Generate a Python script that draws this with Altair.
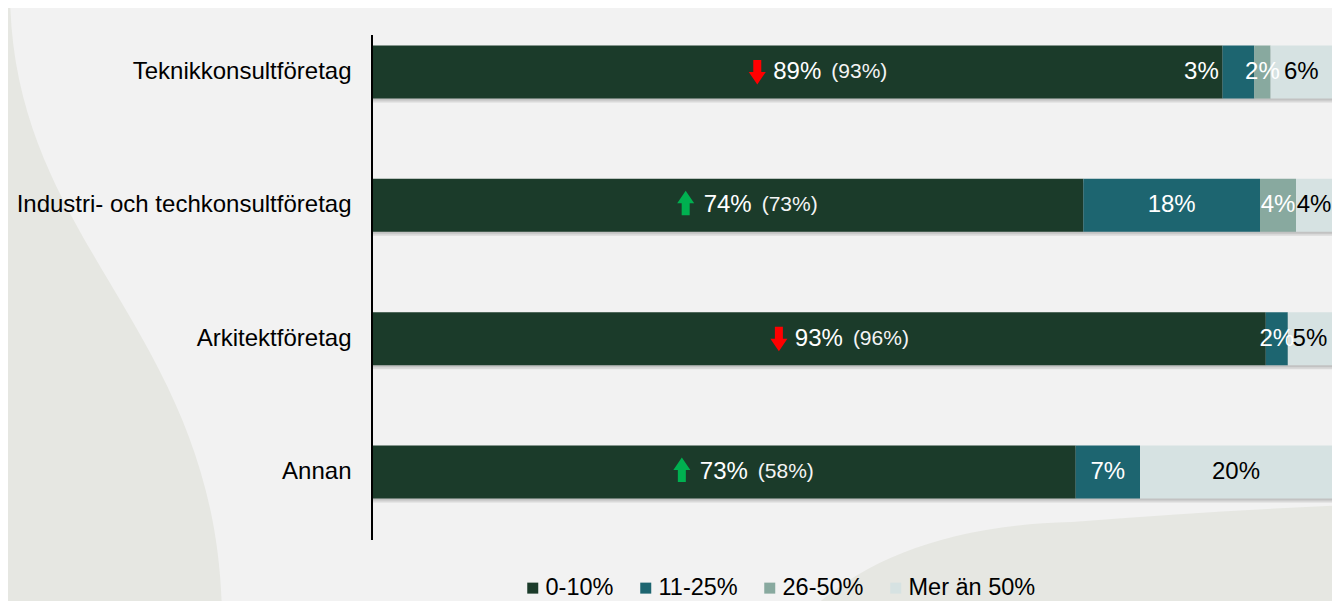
import altair as alt
import pandas as pd

categories = ["Teknikkonsultföretag", "Industri- och techkonsultföretag", "Arkitektföretag", "Annan"]
segments = ["0-10%", "11-25%", "26-50%", "Mer än 50%"]
share_0_10 = [88.6, 74.1, 93.1, 73.3]
share_11_25 = [3.3, 18.4, 2.3, 6.7]
share_26_50 = [1.7, 3.75, 0.0, 0.0]
share_over_50 = [6.4, 3.75, 4.6, 20.0]
previous_0_10 = [93, 73, 96, 58]
trend = ["down", "up", "down", "up"]

seg_colors = ["#1b3b2a", "#1d6570", "#88a99f", "#d6e2e2"]
FONT = "Liberation Sans"

rows = []
for i, cat in enumerate(categories):
    vals = [share_0_10[i], share_11_25[i], share_26_50[i], share_over_50[i]]
    start = 0.0
    for j, seg in enumerate(segments):
        v = vals[j]
        rows.append(dict(cat=cat, seg=seg, order=j, value=v, start=start,
                         end=start + v, mid=start + v / 2, label=f"{round(v)}%"))
        start += v
long_df = pd.DataFrame(rows)

summary = pd.DataFrame({
    "cat": categories,
    "mid0": [v / 2 for v in share_0_10],
    "main": [f"{round(v)}%" for v in share_0_10],
    "prev": [f"({p}%)" for p in previous_0_10],
    "trend": trend,
    "base": [0.0] * len(categories),
    "total": [a + b + c + d for a, b, c, d in zip(share_0_10, share_11_25, share_26_50, share_over_50)],
})
one = pd.DataFrame({"d": [0]})

x_scale = alt.Scale(domain=[0, 100], nice=False, zero=True)
y_enc = alt.Y("cat:N", sort=categories,
              scale=alt.Scale(domain=categories, paddingInner=0.6025, paddingOuter=0.266),
              axis=alt.Axis(title=None, domain=False, ticks=False, grid=False,
                            labelFontSize=24, labelFont=FONT, labelColor="black",
                            labelPadding=21, labelLimit=600, zindex=1))

left_path = "M-420,-20 L-362,-20 C-362,240 -147,320 -150,620 L-420,620 Z"
right_path = "M420,620 C470,560 560,515 700,512 C800,504 900,498 1000,494 L1000,620 Z"
deco_color = "#e6e7e2"

deco_left = alt.Chart(one).mark_point(shape=left_path, size=4, filled=True, opacity=1,
                                      color=deco_color, strokeWidth=0).encode(
    x=alt.value(0), y=alt.value(0))
deco_right = alt.Chart(one).mark_point(shape=right_path, size=4, filled=True, opacity=1,
                                       color=deco_color, strokeWidth=0).encode(
    x=alt.value(0), y=alt.value(0))

shadow1 = alt.Chart(summary).mark_bar(color="#000000", opacity=0.10, yOffset=4,
                                      x2Offset=4).encode(
    x=alt.X("base:Q", scale=x_scale, axis=None), x2="total:Q", y=y_enc)
shadow2 = alt.Chart(summary).mark_bar(color="#000000", opacity=0.10, yOffset=2,
                                      x2Offset=2).encode(
    x=alt.X("base:Q", scale=x_scale, axis=None), x2="total:Q", y=y_enc)

bars = alt.Chart(long_df).mark_bar().encode(
    x=alt.X("start:Q", scale=x_scale, axis=None),
    x2="end:Q",
    y=y_enc,
    color=alt.Color("seg:N", scale=alt.Scale(domain=segments, range=seg_colors),
                    legend=alt.Legend(title=None, orient="none", legendX=149, legendY=566,
                                      direction="horizontal", symbolType="square",
                                      symbolSize=121, symbolStrokeWidth=0,
                                      labelFontSize=23.5, labelFont=FONT, labelColor="black",
                                      columnPadding=20, labelOffset=1, padding=0)),
    order=alt.Order("order:Q"),
)

arrow_down = "M-4,-12 L4,-12 L4,0 L8.5,0 L0,12.5 L-8.5,0 L-4,0 Z"
arrow_up = "M-4,12 L4,12 L4,0 L8.5,0 L0,-12.5 L-8.5,0 L-4,0 Z"

down_arrows = alt.Chart(summary).transform_filter(alt.datum.trend == "down").mark_point(
    shape=arrow_down, size=4, filled=True, opacity=1, color="#ff0000", strokeWidth=0,
    xOffset=-40).encode(x=alt.X("mid0:Q", scale=x_scale, axis=None), y=y_enc)
up_arrows = alt.Chart(summary).transform_filter(alt.datum.trend == "up").mark_point(
    shape=arrow_up, size=4, filled=True, opacity=1, color="#00b050", strokeWidth=0,
    xOffset=-42, yOffset=-2).encode(x=alt.X("mid0:Q", scale=x_scale, axis=None), y=y_enc)

main_labels = alt.Chart(summary).mark_text(fontSize=24, font=FONT, color="white").encode(
    x=alt.X("mid0:Q", scale=x_scale, axis=None), y=y_enc, text="main:N")
prev_labels = alt.Chart(summary).mark_text(fontSize=21, font=FONT, color="#f4f4f4",
                                           align="left", dx=34).encode(
    x=alt.X("mid0:Q", scale=x_scale, axis=None), y=y_enc, text="prev:N")

is_shifted = (alt.datum.cat == "Teknikkonsultföretag") & (alt.datum.seg == "11-25%")
text_color = alt.condition(alt.datum.seg == "Mer än 50%", alt.value("black"), alt.value("white"))

seg_labels = alt.Chart(long_df).transform_filter(
    (alt.datum.seg != "0-10%") & (alt.datum.value >= 0.5)
).transform_filter(~is_shifted).mark_text(fontSize=24, font=FONT).encode(
    x=alt.X("mid:Q", scale=x_scale, axis=None), y=y_enc, text="label:N", color=text_color)

shifted_label = alt.Chart(long_df).transform_filter(is_shifted).mark_text(
    fontSize=24, font=FONT, color="white", dx=-37).encode(
    x=alt.X("mid:Q", scale=x_scale, axis=None), y=y_enc, text="label:N")

axis_line = alt.Chart(one).mark_rule(color="black", strokeWidth=2).encode(
    x=alt.value(0), y=alt.value(25), y2=alt.value(530))

chart = alt.layer(
    deco_left, deco_right, shadow1, shadow2, bars, down_arrows, up_arrows,
    main_labels, prev_labels, seg_labels, shifted_label, axis_line
).properties(
    width=960, height=524,
    padding={"left": 364, "top": 2, "right": 0, "bottom": 67},
    autosize=alt.AutoSizeParams(type="none"),
    background="#f2f2f2",
).configure_view(stroke=None)

chart.save("out.html", embed_options={"renderer": "svg", "actions": False})
